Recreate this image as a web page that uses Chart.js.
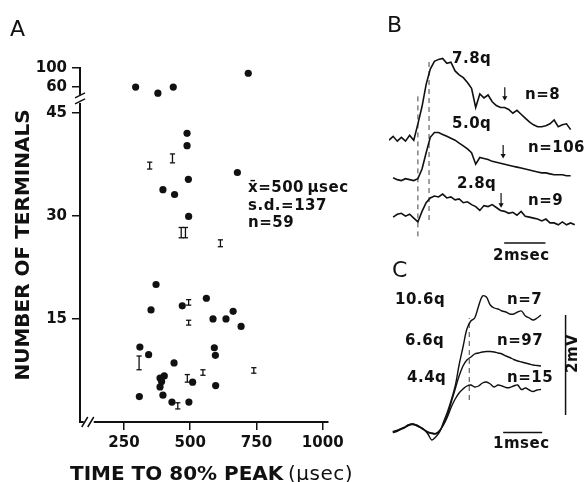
<!DOCTYPE html>
<html>
<head>
<meta charset="utf-8">
<title>Number of terminals vs time to 80% peak</title>
<script src="https://cdn.jsdelivr.net/npm/chart.js@4.4.1/dist/chart.umd.min.js"></script>
<style>
html,body{margin:0;padding:0;background:#fff;}
#fig{position:relative;width:585px;height:482px;overflow:hidden;background:#fff;font-family:"DejaVu Sans",sans-serif;color:#111;}
#fig canvas{position:absolute;}
.lbl{position:absolute;white-space:nowrap;line-height:1;}
.b{font-weight:bold;}
.s15{font-size:15px;letter-spacing:0.5px;}
.pan{font-size:22px;}
</style>
</head>
<body>
<div id="fig">
<canvas id="cA" width="380" height="482" style="left:0;top:0;width:380px;height:482px"></canvas>
<canvas id="cB" width="200" height="210" style="left:385px;top:40px;width:200px;height:210px"></canvas>
<canvas id="cC" width="200" height="170" style="left:385px;top:280px;width:200px;height:170px"></canvas>

<div class="lbl pan" style="left:10px;top:18.4px">A</div>
<div class="lbl pan" style="left:387px;top:14.4px">B</div>
<div class="lbl pan" style="left:392px;top:259.4px">C</div>

<div class="lbl b s15" style="left:248px;top:180.3px">x&#x0304;=500&#8201;µsec</div>
<div class="lbl b s15" style="left:248px;top:198.3px">s.d.=137</div>
<div class="lbl b s15" style="left:248px;top:215.3px">n=59</div>

<div class="lbl b" style="left:70px;top:463.1px;font-size:20px">TIME TO 80% PEAK</div>
<div class="lbl" style="left:288px;top:463.1px;font-size:20px;letter-spacing:0.5px">(µsec)</div>

<div class="lbl b s15" style="left:452px;top:51.3px">7.8q</div>
<div class="lbl b s15" style="left:525px;top:87.3px">n=8</div>
<div class="lbl b s15" style="left:452px;top:116.3px">5.0q</div>
<div class="lbl b s15" style="left:528px;top:140.3px">n=106</div>
<div class="lbl b s15" style="left:457px;top:176.3px">2.8q</div>
<div class="lbl b s15" style="left:528px;top:193.3px">n=9</div>
<div class="lbl b s15" style="left:493px;top:248.3px">2msec</div>

<div class="lbl b s15" style="left:395px;top:292.3px">10.6q</div>
<div class="lbl b s15" style="left:507px;top:292.3px">n=7</div>
<div class="lbl b s15" style="left:405px;top:333.3px">6.6q</div>
<div class="lbl b s15" style="left:497px;top:333.3px">n=97</div>
<div class="lbl b s15" style="left:407px;top:370.3px">4.4q</div>
<div class="lbl b s15" style="left:507px;top:370.3px">n=15</div>
<div class="lbl b s15" style="left:493px;top:436.3px">1msec</div>
<div class="lbl b s15" style="left:565px;top:373px;transform-origin:0 0;transform:rotate(-90deg)">2mV</div>
</div>

<script>
// ---------------- Panel A data ----------------
const dotTime = [294,378,436,719, 488,488,678,493,397,441,494,
  371,561,352,470,662,586,635,692,310,343,591,595,439,386,402,392,386,509,596,308,397,431,495];
const dotTerminals = [60,51,60,87, 42.0,40.2,36.3,35.3,33.8,33.1,29.9,
  20.0,18.0,16.3,16.9,16.1,15.0,15.0,13.9,10.9,9.8,10.8,9.7,8.6,6.4,6.7,5.9,5.1,5.8,5.3,3.7,3.9,2.9,2.9];
const barTime = [347,433,466,482,614,494,494,307,548,740,489,453];
const barLow  = [36.8,37.7,26.8,26.8,25.5,17.0,14.1,7.6,6.8,7.1,5.8,1.9];
const barHigh = [37.8,39.0,28.3,28.3,26.5,17.8,14.8,9.6,7.6,7.9,6.9,2.8];
const xTickValues = [250,500,750,1000];
const yTickValues = [15,30,45,60,100];

// ---------------- Panel B data (time in ms, amplitude in mV) ----------------
const bTime = [0,0.2,0.4,0.6,0.8,1,1.2,1.4,1.6,1.8,2,2.2,2.4,2.6,2.8,3,3.2,3.4,3.6,3.8,4,4.2,4.4,4.6,4.8,5,5.2,5.4,5.6,5.8,6,6.2,6.4,6.6,6.8,7,7.2,7.4,7.6,7.8,8,8.2,8.4,8.6,8.8,9];
const trace78q = [0,0.08,-0.02,0.06,-0.02,0.10,0,0.34,0.70,1.16,1.48,1.64,1.68,1.70,1.60,1.62,1.44,1.36,1.30,1.20,1.08,0.68,0.96,0.88,0.94,0.80,0.72,0.68,0.68,0.64,0.56,0.62,0.54,0.46,0.38,0.32,0.28,0.28,0.30,0.34,0.42,0.28,0.32,0.34,0.22,null];
const trace50q = [null,0.02,-0.02,-0.04,0,-0.02,-0.04,0,0.20,0.54,0.86,0.96,0.96,0.92,0.88,0.84,0.80,0.74,0.68,0.62,0.54,0.30,0.44,0.42,0.40,0.36,0.34,0.32,0.30,0.28,0.26,0.24,0.22,0.20,0.18,0.16,0.14,0.12,0.12,0.10,0.08,0.08,0.08,0.06,0.06,null];
const trace28q = [null,-0.02,0.04,0.06,0,0.04,-0.04,-0.12,0.10,0.28,0.38,0.42,0.40,0.46,0.38,0.40,0.34,0.36,0.28,0.30,0.24,0.20,0.12,0.22,0.20,0.24,0.18,0.12,0.10,0.06,0.08,0.02,0.10,0,-0.02,-0.04,-0.06,-0.10,-0.06,-0.14,-0.14,-0.18,-0.12,-0.18,-0.14,-0.18];
const bArrowTimes = [5.61,5.53,5.43];
const bOnsetTimes = [1.40,1.94];

// ---------------- Panel C data (time in ms, mV) ----------------
const cTime = [0.2,0.3,0.4,0.5,0.6,0.7,0.8,0.9,1.0,1.1,1.2,1.3,1.4,1.5,1.6,1.7,1.8,1.9,2.0,2.1,2.2,2.3,2.4,2.5,2.6,2.7,2.8,2.9,3.0,3.1,3.2,3.3,3.4,3.5,3.6,3.7,3.8,3.9,4.0];
const trace106q = [0.36,0.38,0.42,0.45,0.50,0.52,0.50,0.46,0.41,0.32,0.20,0.26,0.36,
  0.56,0.76,1.00,1.28,1.70,2.06,2.42,2.58,2.64,2.88,3.08,3.06,2.90,2.84,2.82,2.78,2.76,2.72,2.72,2.76,2.78,2.68,2.64,2.60,2.64,2.70];
const trace66q = [0.37,0.39,0.42,0.46,0.50,0.52,0.50,0.46,0.41,0.36,0.34,0.33,0.38,
  0.52,0.70,0.96,1.22,1.48,1.68,1.80,1.86,1.92,1.94,1.96,1.97,1.97,1.96,1.94,1.92,1.88,1.85,1.81,1.78,1.76,1.74,1.72,1.70,1.69,1.68];
const trace44q = [0.35,0.37,0.41,0.44,0.49,0.51,0.49,0.45,0.40,0.35,0.33,0.32,0.39,
  0.50,0.66,0.86,1.02,1.14,1.22,1.28,1.30,1.26,1.28,1.34,1.36,1.32,1.26,1.30,1.28,1.25,1.25,1.28,1.30,1.21,1.24,1.20,1.17,1.20,1.21];
const cOnsetTime = 2.16;

// ---------------- helpers ----------------
const INK = '#111';
const FONT = 'DejaVu Sans';
// broken y axis: 0-45 linear, above the break 60-100 compressed
const Y_BREAK = 45, UPPER_AT_60 = 48.72, UPPER_SPAN = 2.77;
function yAxisPos(v){ return v <= Y_BREAK ? v : UPPER_AT_60 + UPPER_SPAN*Math.log(v/60)/Math.log(100/60); }
function seg(x0,y0,x1,y1){ return [{x:x0,y:y0},{x:x1,y:y1}]; }
function lineDs(data, extra){ return Object.assign({type:'scatter', data, showLine:true, pointRadius:0, borderColor:INK, borderWidth:1.6, tension:0, fill:false}, extra||{}); }
const dashed = {borderDash:[5,4], borderWidth:1, borderColor:'#444'};
const quiet = {responsive:false, animation:false, events:[], plugins:{legend:{display:false}, tooltip:{enabled:false}}};

// ---------------- Panel A ----------------
const errData = [];
barTime.forEach((t,i)=>{ errData.push({x:t,y:yAxisPos(barLow[i])},{x:t,y:yAxisPos(barHigh[i])},{x:t,y:null}); });

const axisBreaks = {
  id:'axisBreaks',
  afterDraw(chart){
    const {ctx} = chart, xs = chart.scales.x, ys = chart.scales.y;
    const ax = xs.left, ay = ys.bottom;
    const by = ys.getPixelForValue(47.0);
    const bx = xs.getPixelForValue(117);
    ctx.save();
    ctx.fillStyle = '#fff';
    ctx.fillRect(ax-3, by-4, 6, 8);
    ctx.fillRect(bx-5, ay-3, 10, 6);
    ctx.strokeStyle = INK; ctx.lineWidth = 1.5;
    ctx.beginPath();
    ctx.moveTo(ax-5, by-1); ctx.lineTo(ax+5, by-6);
    ctx.moveTo(ax-5, by+5); ctx.lineTo(ax+5, by);
    ctx.moveTo(bx-7, ay+5); ctx.lineTo(bx-1, ay-5);
    ctx.moveTo(bx-1, ay+5); ctx.lineTo(bx+5, ay-5);
    ctx.stroke();
    ctx.restore();
  }
};

const tickFont = {family:FONT, size:15, weight:'bold'};
new Chart(document.getElementById('cA'), {
  type:'scatter',
  data:{datasets:[
    {data: dotTime.map((t,i)=>({x:t, y:yAxisPos(dotTerminals[i])})), pointRadius:3.6, pointBackgroundColor:INK, pointBorderWidth:0},
    {data: errData, showLine:true, spanGaps:false, borderColor:INK, borderWidth:1.3, pointStyle:'line', pointRadius:2.6, pointBorderColor:INK, pointBorderWidth:1.3}
  ]},
  options: Object.assign({}, quiet, {
    layout:{padding:{left:0, top:68, right:52, bottom:0}},
    scales:{
      x:{type:'linear', min:84, max:1020,
        afterBuildTicks: s => { s.ticks = xTickValues.map(v=>({value:v})); },
        afterFit: s => { s.height = 60; },
        ticks:{font:tickFont, color:INK, padding:4, maxRotation:0, autoSkip:false, callback:(val,i)=>String(xTickValues[i])},
        grid:{display:true, drawOnChartArea:false, drawTicks:true, tickLength:8, color:INK, lineWidth:1.5},
        border:{display:true, color:INK, width:2}
      },
      y:{type:'linear', min:0, max:51.5,
        afterBuildTicks: s => { s.ticks = yTickValues.map(v=>({value:yAxisPos(v)})); },
        afterFit: s => { s.width = 80; },
        ticks:{font:tickFont, color:INK, padding:5, autoSkip:false, callback:(val,i)=>String(yTickValues[i])},
        title:{display:true, text:'NUMBER OF TERMINALS', color:INK, font:{family:FONT, size:20, weight:'bold'}, padding:{top:12, bottom:0}},
        grid:{display:true, drawOnChartArea:false, drawTicks:true, tickLength:8, color:INK, lineWidth:1.5},
        border:{display:true, color:INK, width:2}
      }
    }
  }),
  plugins:[axisBreaks]
});

// ---------------- Panel B ----------------
const bBaselines = [2.2, 1.4, 0.62];
function traceData(times, vals, base){ const out=[]; times.forEach((t,i)=>{ if(vals[i]!==null) out.push({x:t, y:vals[i]+base}); }); return out; }
const bArrowTop = [[3.30,3.08],[2.10,1.88],[1.10,0.86]];
const bDs = [
  lineDs(traceData(bTime, trace78q, bBaselines[0])),
  lineDs(traceData(bTime, trace50q, bBaselines[1])),
  lineDs(traceData(bTime, trace28q, bBaselines[2])),
  lineDs(seg(bOnsetTimes[0],0.2,bOnsetTimes[0],3.14), dashed),
  lineDs(seg(bOnsetTimes[1],0.54,bOnsetTimes[1],3.9), dashed),
  lineDs(seg(5.58,0.06,7.58,0.06), {borderWidth:1.5})
];
bArrowTimes.forEach((t,i)=>{
  bDs.push(lineDs(seg(t,bArrowTop[i][0],t,bArrowTop[i][1]), {borderWidth:1.2}));
  bDs.push({type:'scatter', data:[{x:t,y:bArrowTop[i][1]}], pointStyle:'triangle', rotation:180, pointRadius:3, pointBackgroundColor:INK, pointBorderColor:INK, pointBorderWidth:0});
});
new Chart(document.getElementById('cB'), {
  type:'scatter',
  data:{datasets:bDs},
  options: Object.assign({}, quiet, {
    layout:{padding:0},
    scales:{x:{type:'linear', display:false, min:0, max:200/21.5}, y:{type:'linear', display:false, min:0, max:4.2}}
  })
});

// ---------------- Panel C ----------------
const cSmooth = {borderWidth:1.4, tension:0.35};
new Chart(document.getElementById('cC'), {
  type:'scatter',
  data:{datasets:[
    lineDs(traceData(cTime, trace106q, 0), cSmooth),
    lineDs(traceData(cTime, trace66q, 0), cSmooth),
    lineDs(traceData(cTime, trace44q, 0), cSmooth),
    lineDs(seg(cOnsetTime,1.0,cOnsetTime,2.64), dashed),
    lineDs(seg(3.03,0.35,4.03,0.35), {borderWidth:1.5}),
    lineDs(seg(4.63,0.7,4.63,2.7), {borderWidth:1.5})
  ]},
  options: Object.assign({}, quiet, {
    layout:{padding:0},
    scales:{x:{type:'linear', display:false, min:0, max:200/39}, y:{type:'linear', display:false, min:0, max:3.4}}
  })
});
</script>
</body>
</html>
